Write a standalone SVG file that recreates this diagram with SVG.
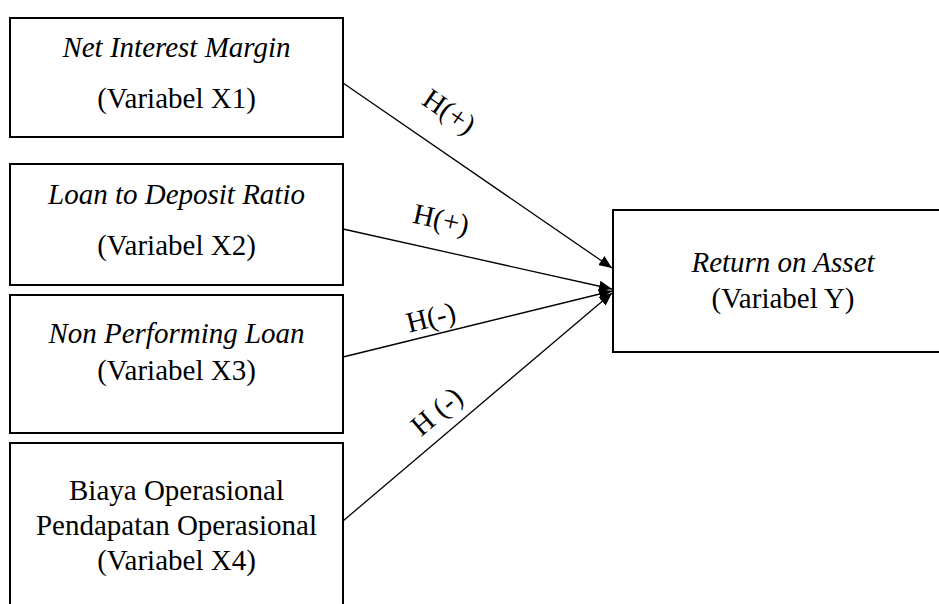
<svg xmlns="http://www.w3.org/2000/svg" width="939" height="604" viewBox="0 0 939 604">
<defs>
<style>
.box{fill:#fff;stroke:#000;stroke-width:2}
.t{font-family:"Liberation Serif","Times New Roman",serif;font-size:29px;fill:#000;text-anchor:middle}
.i{font-style:italic}
.c{stroke:#000;stroke-width:1.3;fill:none;marker-end:url(#ah)}
</style>
<marker id="ah" viewBox="0 0 13 11" refX="13" refY="5.5" markerWidth="13" markerHeight="11" markerUnits="userSpaceOnUse" orient="auto">
<path d="M0,0 L13,5.5 L0,11 z" fill="#000"/>
</marker>
</defs>
<rect width="939" height="604" fill="#fff"/>
<g id="n1">
<rect class="box" x="10" y="18" width="333" height="119"/>
<text class="t i" x="176.5" y="57">Net Interest Margin</text>
<text class="t" x="176.5" y="108">(Variabel X1)</text>
</g>
<g id="n2">
<rect class="box" x="10" y="164" width="333" height="121"/>
<text class="t i" x="176.5" y="204">Loan to Deposit Ratio</text>
<text class="t" x="176.5" y="255">(Variabel X2)</text>
</g>
<g id="n3">
<rect class="box" x="10" y="295" width="333" height="138"/>
<text class="t i" x="176.5" y="343">Non Performing Loan</text>
<text class="t" x="176.5" y="380">(Variabel X3)</text>
</g>
<g id="n4">
<rect class="box" x="10" y="443" width="333" height="180"/>
<text class="t" x="176.5" y="500">Biaya Operasional</text>
<text class="t" x="176.5" y="535">Pendapatan Operasional</text>
<text class="t" x="176.5" y="570">(Variabel X4)</text>
</g>
<g id="ny">
<rect class="box" x="613" y="210" width="340" height="142"/>
<text class="t i" x="783" y="272">Return on Asset</text>
<text class="t" x="783" y="308">(Variabel Y)</text>
</g>
<g id="connectors">
<line class="c" x1="343" y1="83" x2="612" y2="268"/>
<line class="c" x1="343" y1="229" x2="612" y2="289"/>
<line class="c" x1="343" y1="357" x2="612" y2="291"/>
<line class="c" x1="343" y1="521" x2="612" y2="293"/>
</g>
<g id="labels">
<text class="t" transform="translate(449,112) rotate(34.5)" x="0" y="9">H(+)</text>
<text class="t" transform="translate(441,220) rotate(12.6)" x="0" y="9">H(+)</text>
<text class="t" transform="translate(431,318) rotate(-13.8)" x="0" y="9">H(-)</text>
<text class="t" transform="translate(437,412) rotate(-40.3)" x="0" y="9">H (-)</text>
</g>
</svg>
